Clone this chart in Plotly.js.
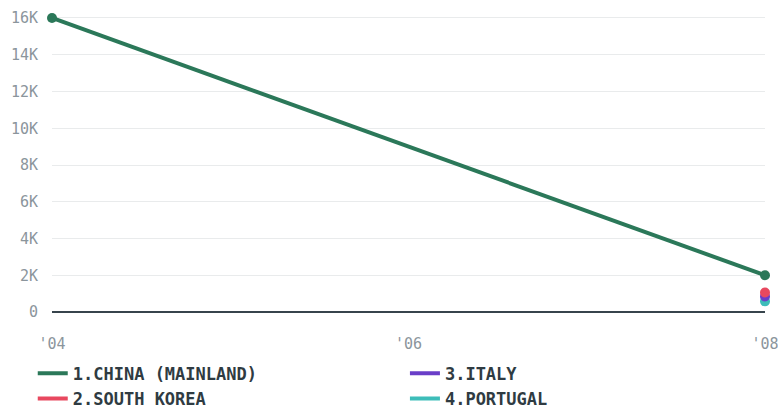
<!DOCTYPE html>
<html><head><meta charset="utf-8">
<script src="https://cdn.plot.ly/plotly-3.0.1.min.js"></script>
<style>html,body{margin:0;padding:0;background:#fff}</style>
</head><body>
<div id="chart" style="width:778px;height:410px"></div>
<script>
const years = [2004, 2008];
const tickVals = [2004, 2006, 2008];
const tickText = ["'04", "'06", "'08"];
const chinaName = "1.CHINA (MAINLAND)";
const chinaValues = [16000, 2000];
const koreaName = "2.SOUTH KOREA";
const koreaValues = [null, 1060];
const italyName = "3.ITALY";
const italyValues = [null, 850];
const portugalName = "4.PORTUGAL";
const portugalValues = [null, 580];

const colors = {china:'#2b7859', korea:'#e8485f', italy:'#6a3ec8', portugal:'#3dbdb9'};
function tr(name, vals, color){
  return {x: years, y: vals, name: name, type:'scatter', mode:'lines+markers',
    line:{color:color, width:4}, marker:{color:color, size:10},
    cliponaxis:false, showlegend:false, connectgaps:false};
}
function leg(name, color, which){
  return {x:[null], y:[null], name:name, type:'scatter', mode:'lines',
    line:{color:color, width:4}, legend:which, showlegend:true, hoverinfo:'skip'};
}
const data = [
  tr(portugalName, portugalValues, colors.portugal),
  tr(italyName, italyValues, colors.italy),
  tr(koreaName, koreaValues, colors.korea),
  tr(chinaName, chinaValues, colors.china),
  leg(chinaName, colors.china, 'legend'),
  leg(koreaName, colors.korea, 'legend'),
  leg(italyName, colors.italy, 'legend2'),
  leg(portugalName, colors.portugal, 'legend2')
];
const legFont = {family:'"DejaVu Sans Mono", monospace', size:17, color:'#2f3b42', weight:'bold'};
const layout = {
  width:778, height:410,
  margin:{l:52, r:13, t:10, b:98, autoexpand:false},
  paper_bgcolor:'#fff', plot_bgcolor:'#fff',
  font:{family:'"DejaVu Sans Mono", monospace', color:'#8b959c', size:15},
  showlegend:true,
  xaxis:{range:[2004, 2008], tickvals:tickVals, ticktext:tickText, showgrid:false,
    zeroline:false, showline:false, ticks:'outside', ticklen:18, tickcolor:'rgba(0,0,0,0)',
    ticklabeloverflow:'allow',
    tickfont:{size:15, color:'#8b959c'}, fixedrange:true},
  yaxis:{range:[0, 16435], tickvals:[0,2000,4000,6000,8000,10000,12000,14000,16000],
    ticktext:['0','2K','4K','6K','8K','10K','12K','14K','16K'],
    gridcolor:'#e9ebec', gridwidth:1, zeroline:true, zerolinecolor:'#37444c', zerolinewidth:2.5,
    ticks:'outside', ticklen:10, tickcolor:'rgba(0,0,0,0)',
    tickfont:{size:15, color:'#8b959c'}, fixedrange:true},
  legend:{orientation:'v', x:-0.027, xanchor:'left', y:-0.145, yanchor:'top',
    font:legFont, bgcolor:'rgba(0,0,0,0)'},
  legend2:{orientation:'v', x:0.495, xanchor:'left', y:-0.145, yanchor:'top',
    font:legFont, bgcolor:'rgba(0,0,0,0)'}
};
Plotly.newPlot('chart', data, layout, {displayModeBar:false, staticPlot:true});
</script>
</body></html>
